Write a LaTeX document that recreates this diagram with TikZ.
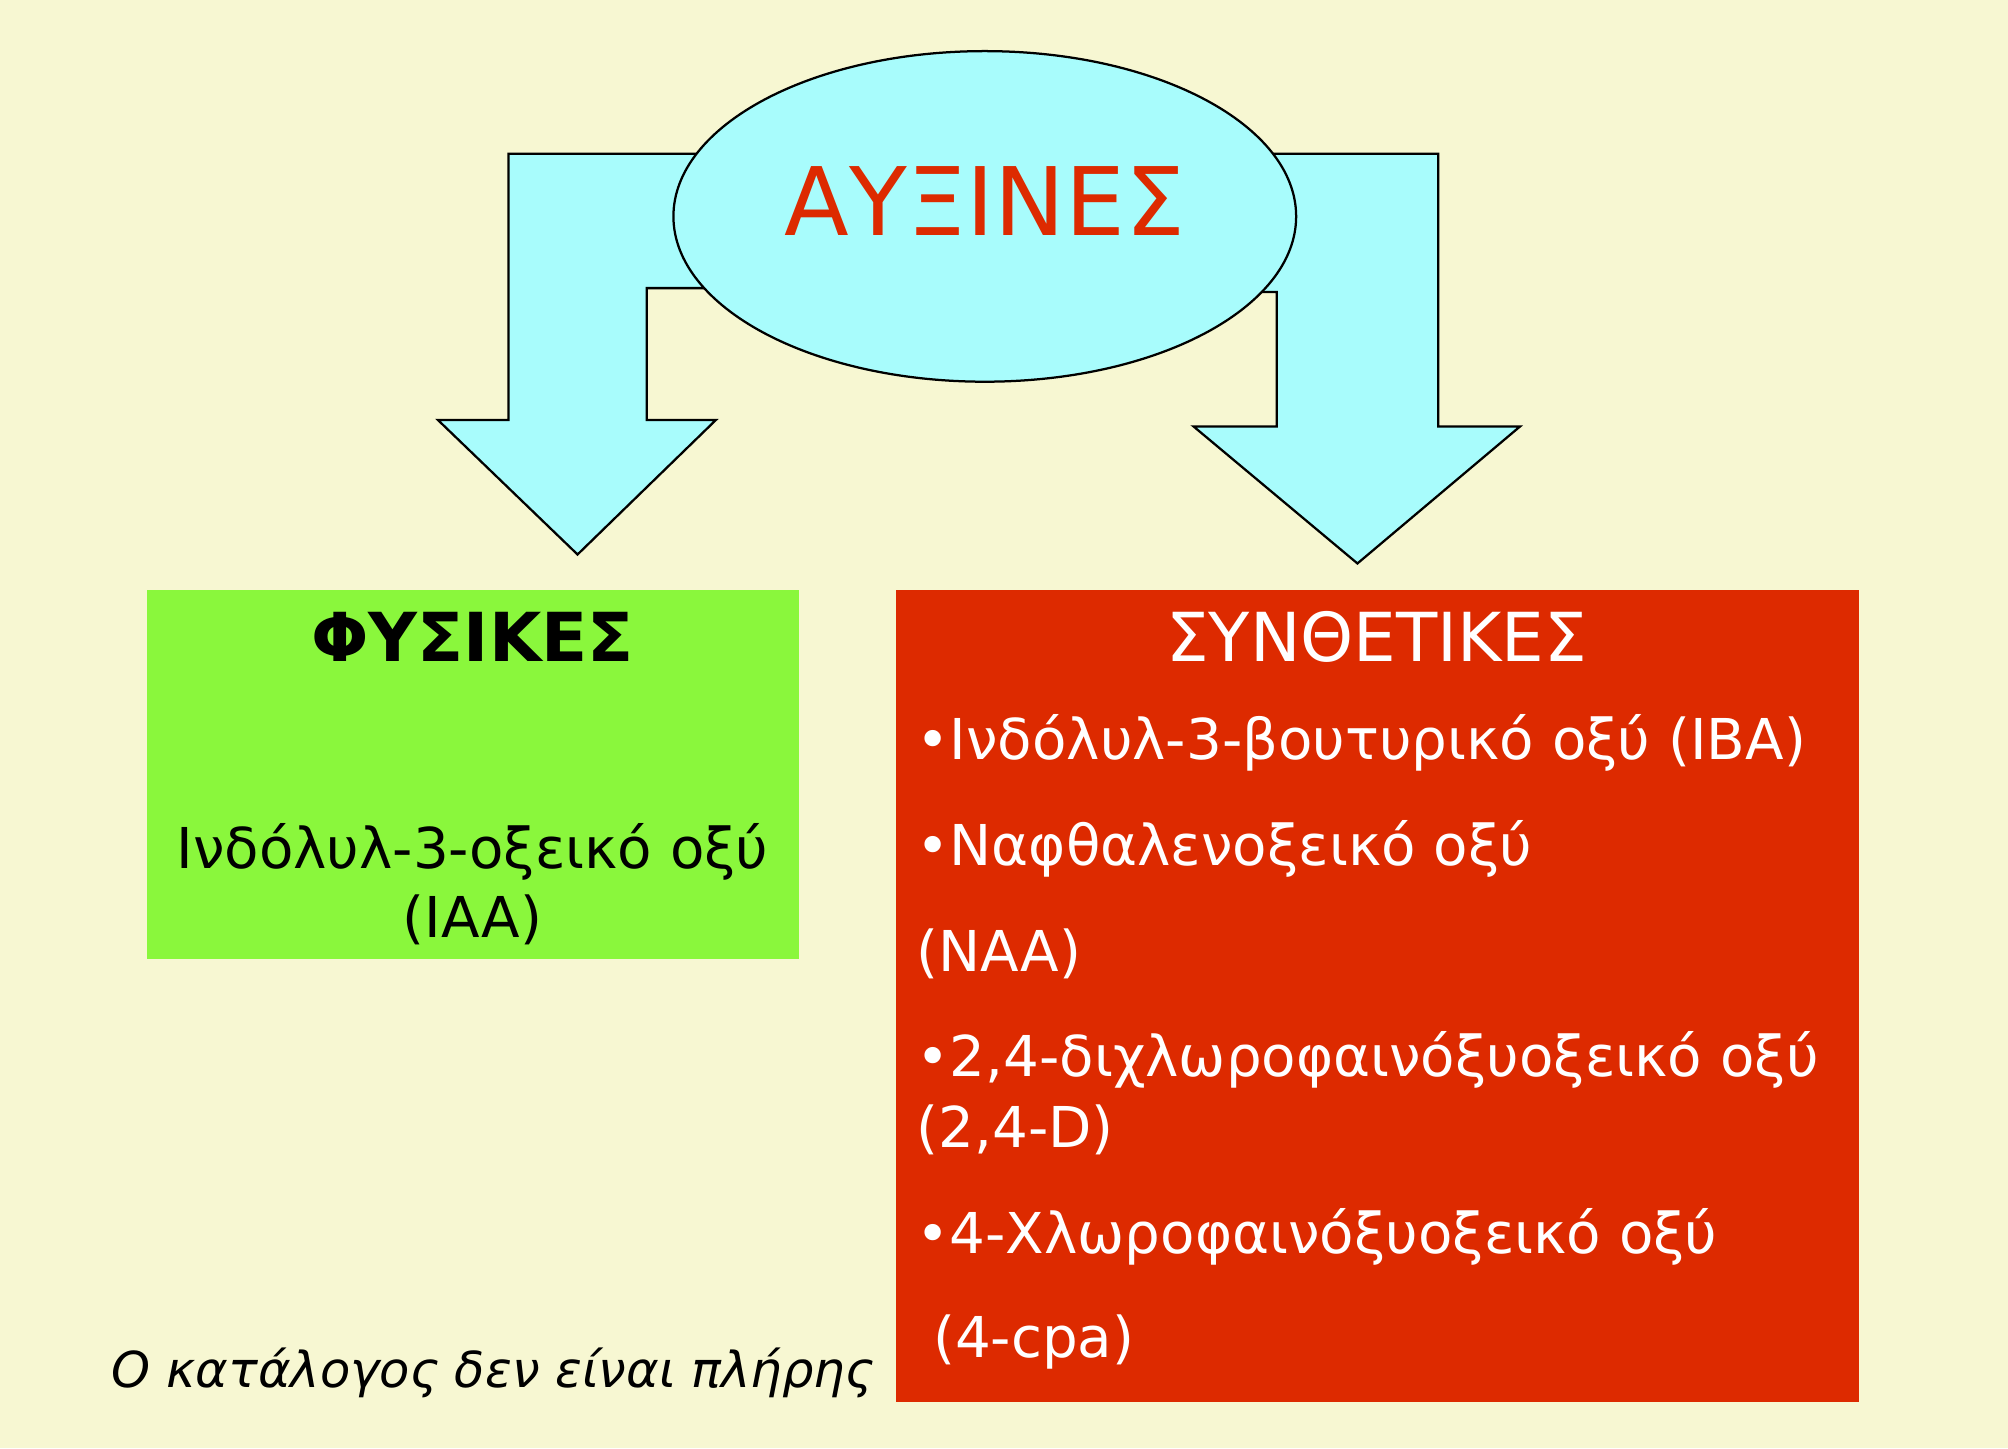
\documentclass[tikz,border=0pt]{standalone}
\usepackage{fontspec}
\setmainfont{DejaVu Sans}
\usetikzlibrary{shapes.geometric}
\begin{document}
\begin{tikzpicture}[x=0.01cm,y=-0.01cm,
  arr/.style={draw=black,fill=aux,line width=0.5pt,line join=miter},
  body/.style={font=\fontsize{12.5}{15}\selectfont,inner sep=0pt},
  ttl/.style={font=\fontsize{15}{18}\selectfont\bfseries,inner sep=0pt}]
\definecolor{bg}{HTML}{F7F7D2}
\definecolor{aux}{HTML}{A8FCFC}
\definecolor{grn}{HTML}{8AF73C}
\definecolor{rd}{HTML}{DD2A00}
\useasboundingbox (0,0) rectangle (1568,1131);
\fill[bg] (0,0) rectangle (1568,1131);
\draw[arr] (397,328)--(397,120)--(560,120)--(560,225)--(505,225)--(505,328)--(559,328)--(451,433)--(342,328)--cycle;
\draw[arr] (1123,333)--(1123,120)--(980,120)--(980,228)--(997,228)--(997,333)--(932,333)--(1060,440)--(1187,333)--cycle;
\node[ellipse,draw=black,fill=aux,line width=0.5pt,inner sep=0pt,minimum width=4.86cm,minimum height=2.58cm] (e) at (769,169) {};
\node[font=\fontsize{21}{24}\selectfont,text=rd] (t) at (769,157) {ΑΥΞΙΝΕΣ};
\fill[grn] (115,461) rectangle (624,749);
\fill[rd] (700,461) rectangle (1452,1095);
\node[ttl] (g1) at (369,497) {ΦΥΣΙΚΕΣ};
\node[body] (g2) at (369,665) {Ινδόλυλ-3-οξεικό οξύ};
\node[body] (g3) at (369,718) {(IAA)};
\node[ttl,text=white,font=\fontsize{15}{18}\selectfont] (r0) at (1075,497) {ΣΥΝΘΕΤΙΚΕΣ};
\begin{scope}[every node/.style={body,text=white,anchor=west}]
\node (r1) at (715,580) {•Ινδόλυλ-3-βουτυρικό οξύ (IBA)};
\node (r2) at (715,663) {•Ναφθαλενοξεικό οξύ};
\node (r3) at (715,745) {(NAA)};
\node (r4) at (715,828) {•2,4-διχλωροφαινόξυοξεικό οξύ};
\node (r5) at (715,882) {(2,4-D)};
\node (r6) at (715,966) {•4-Χλωροφαινόξυοξεικό οξύ};
\node (r7) at (728,1048) {(4-cpa)};
\end{scope}
\node[font=\fontsize{11}{13}\selectfont\itshape,inner sep=0pt] (f) at (385,1072) {Ο κατάλογος δεν είναι πλήρης};
\end{tikzpicture}
\end{document}
